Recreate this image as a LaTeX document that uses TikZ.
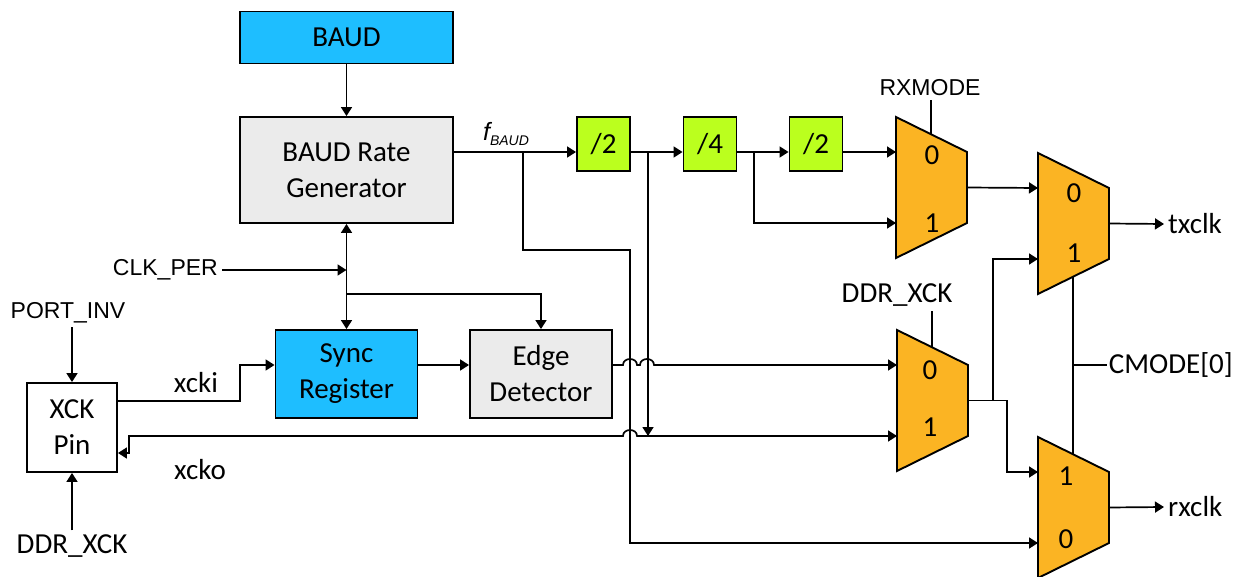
\documentclass[tikz,border=0pt]{standalone}
\usepackage{fontspec}
\setmainfont{Carlito}
\newfontfamily\arialf{Liberation Sans}
\usetikzlibrary{arrows.meta}
\definecolor{cyanbox}{RGB}{30,190,255}
\definecolor{graybox}{RGB}{235,235,235}
\definecolor{greenbox}{RGB}{187,255,30}
\definecolor{muxorange}{RGB}{251,180,35}
\newcommand{\muxblock}[3]{%
  \coordinate (#1-ia) at (#2,#3+35);
  \coordinate (#1-ib) at (#2,#3+106);
  \coordinate (#1-o) at (#2+71,#3+70.5);
  \coordinate (#1-s) at (#2+35,#3+17.5);
  \coordinate (#1-sb) at (#2+35,#3+123.5);
  \filldraw[muxs] (#2,#3) -- (#2+71,#3+35) -- (#2+71,#3+106) -- (#2,#3+141) -- cycle;
}
\begin{document}
\begin{tikzpicture}[x=1pt,y=-1pt,line width=1.7pt,
  every node/.style={font=\fontsize{29}{36}\selectfont},
  box/.style={draw,line width=1.9pt,align=center,inner sep=0pt},
  arial/.style={font=\fontsize{23}{26}\selectfont\arialf},
  muxs/.style={draw,line width=1.9pt,fill=muxorange},
  arr/.style={-{Triangle[length=9pt,width=11pt]}},
  darr/.style={{Triangle[length=9pt,width=11pt]}-{Triangle[length=9pt,width=11pt]}}]
\useasboundingbox (0,0) rectangle (1244,577);

% boxes
\node[box,fill=cyanbox,minimum width=213pt,minimum height=52pt] (baud) at (346.5,37.5) {BAUD};
\node[box,fill=graybox,minimum width=213pt,minimum height=106pt] (brg) at (346.5,170) {BAUD Rate\\Generator};
\node[box,fill=greenbox,minimum width=53pt,minimum height=54pt] (d1) at (603.5,144) {/2};
\node[box,fill=greenbox,minimum width=53pt,minimum height=54pt] (d2) at (710,144) {/4};
\node[box,fill=greenbox,minimum width=53pt,minimum height=54pt] (d3) at (816,144) {/2};
\node[box,fill=cyanbox,minimum width=142pt,minimum height=88pt] (sync) at (346.5,374) {Sync\\Register};
\node[box,fill=graybox,minimum width=142pt,minimum height=88pt] (edge) at (541,374) {Edge\\Detector};
\node[box,fill=white,minimum width=90pt,minimum height=89pt] (xck) at (72,427.5) {XCK\\Pin};

% muxes
\muxblock{mA}{896}{117}
\muxblock{mB}{1038}{153}
\muxblock{mC}{897}{330}
\muxblock{mD}{1038}{437}
\node (mA0) at (932,155) {0};
\node (mA1) at (932,223) {1};
\node (mB0) at (1074,193) {0};
\node (mB1) at (1074,253) {1};
\node (mC0) at (930,370) {0};
\node (mC1) at (930,427) {1};
\node (mD1) at (1066,476) {1};
\node (mD0) at (1066,539) {0};

% labels
\node[arial] (rxm) at (930,88) {RXMODE};
\node (ddrm) at (897,295) {DDR\_XCK};
\node[arial,anchor=east] (clk) at (222,270) {CLK\_PER};
\node[arial] (port) at (68,313) {PORT\_INV};
\node (ddrb) at (72,546) {DDR\_XCK};
\node (xcki) at (196,383) {xcki};
\node (xcko) at (200,470) {xcko};
\node[anchor=west] (tx) at (1164,224) {txclk};
\node[anchor=west] (rx) at (1164,507) {rxclk};
\node[anchor=west,inner sep=1pt] (cm) at (1107,365) {CMODE[0]};
\node (fl) at (506,134) {\fontsize{25}{25}\selectfont\arialf\itshape f\raisebox{-5pt}{\fontsize{14}{14}\selectfont BAUD}};

% junctions
\coordinate (j1) at (523,152);
\coordinate (j2) at (648,152);
\coordinate (j3) at (754,152);
\coordinate (j2b) at (648,436);
\coordinate (k) at (346.5,294);
\coordinate (m) at (993,400.5);

% connectors
\draw[arr] (baud) -- (brg);
\draw[arr] (brg.east |- mA-ia) -- (d1.west |- mA-ia);
\draw[arr] (d1.east |- mA-ia) -- (d2.west |- mA-ia);
\draw[arr] (d2.east |- mA-ia) -- (d3.west |- mA-ia);
\draw[arr] (d3.east |- mA-ia) -- (mA-ia);
\draw[arr] (j3) |- (mA-ib);
\draw[arr] (j2) -- (j2b);
\draw[arr] (j1) -- (523,250) -- (630,250) -- (630,543) -- (mD-ib);
\draw[arr] (mA-o) -- (mB-ia);
\draw[arr] (mB-o) -- (tx.west);
\draw[arr] (mD-o) -- (rx.west);
\draw[arr] (mC-o) -- (m) |- (mB-ib);
\draw[arr] (m) -- (1007,400.5) |- (mD-ia);
\draw (mA-s) -- (mA-s |- rxm.south);
\draw (mC-s) -- (mC-s |- ddrm.south);
\draw (mB-sb) -- (mD-s);
\draw (1073,365) -- (cm.west);
\draw[arr] (clk.east) -- (clk.east -| brg.south);
\draw[darr] (brg.south) -- (sync.north);
\draw[arr] (k) -| (edge.north);
\draw[arr] (xck.north |- port.south) -- (xck.north);
\draw[arr] (ddrb.north) -- (xck.south);
\draw[arr] ([yshift=26.5pt]xck.east) -- (240,401) -- (240,365) -- (sync.west |- mC-ia);
\draw[arr] (sync.east |- mC-ia) -- (edge.west |- mC-ia);
\draw[arr] (edge.east |- mC-ia) -- (623,365) .. controls (623,357) and (637,357) .. (637,365) -- (640,365) .. controls (640,357) and (654,357) .. (654,365) -- (mC-ia);
\draw[arr] (j2b) -- (mC-ib);
\draw[arr] (j2b) -- (637,436) .. controls (637,428) and (623,428) .. (623,436) -- (129,436) -- (129,453) -- ([yshift=-25.5pt]xck.east);
\end{tikzpicture}
\end{document}
